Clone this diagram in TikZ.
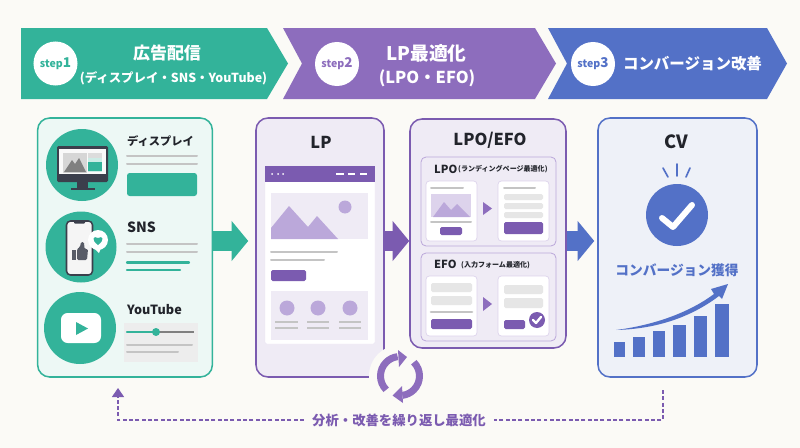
\documentclass[tikz,border=0pt]{standalone}
\usepackage{fontspec}
\setmainfont{Noto Sans CJK JP}
\usepackage{xcolor}
\usetikzlibrary{arrows.meta,calc}
\definecolor{bgc}{HTML}{FBFAF6}
\definecolor{tealc}{HTML}{33B39A}
\definecolor{teall}{HTML}{EDF8F5}
\definecolor{purc}{HTML}{8D6DBD}
\definecolor{purd}{HTML}{7B5BB0}
\definecolor{purm}{HTML}{BBA8DA}
\definecolor{purl}{HTML}{EFEBF5}
\definecolor{bluec}{HTML}{5371C7}
\definecolor{bluel}{HTML}{EEF1F8}
\definecolor{darkc}{HTML}{3B3F4C}
\definecolor{grayc}{HTML}{C4C4C4}
\definecolor{grayl}{HTML}{E6E6E6}
\definecolor{inkc}{HTML}{22242B}
\tikzset{
  headtext/.style={text=white,inner sep=0pt,align=center,font=\bfseries\fontsize{14}{19}\selectfont},
  headsmall/.style={text=white,inner sep=0pt,font=\bfseries\fontsize{10.6}{16}\selectfont},
  stepdot/.style={circle,fill=white,minimum size=1.32cm,inner sep=0pt,font=\bfseries\fontsize{9}{12}\selectfont},
  panel/.style={draw=#1,line width=1.3pt,rounded corners=.36cm,inner sep=0pt},
  sub/.style={draw=purm,fill=purl,line width=.7pt,rounded corners=.15cm},
  card/.style={draw=purm!50,fill=white,line width=.6pt,rounded corners=.1cm},
  title/.style={text=inkc,inner sep=0pt,font=\bfseries\fontsize{14}{16}\selectfont},
  subtitle/.style={text=inkc,inner sep=0pt,font=\bfseries\fontsize{10.8}{13}\selectfont},
  tiny/.style={text=inkc,inner sep=0pt,font=\bfseries\fontsize{6}{8}\selectfont},
  grayline/.style={draw=grayc,line width=.06cm,line cap=round},
  tealline/.style={draw=tealc,line width=.07cm,line cap=round},
  flow/.style={draw=#1,line width=.58cm,-{Triangle[length=.5cm,width=1.18cm]}},
  bar/.style={fill=grayl,rounded corners=.05cm},
  btn/.style={fill=purd,rounded corners=.05cm},
  backline/.style={draw=purd,line width=.9pt,dash pattern=on 3.4pt off 2pt},
}
\begin{document}
\begin{tikzpicture}[x=.03cm,y=-.03cm]
\useasboundingbox (0,0) rectangle (800,448);
\fill[bgc] (0,0) rectangle (800,448);
% step banners
\fill[tealc] (21,28) -- (267,28) -- (288,63.5) -- (267,99) -- (21,99) -- cycle;
\fill[purc] (283,28) -- (535,28) -- (556,63.5) -- (535,99) -- (283,99) -- (302,63.5) -- cycle;
\fill[bluec] (548,28) -- (767,28) -- (787,63.5) -- (767,99) -- (548,99) -- (567,63.5) -- cycle;
\node[stepdot,text=tealc] (s1) at (55.5,63.5) {step{\fontsize{11.5}{12}\selectfont 1}};
\node[stepdot,text=purc] (s2) at (337,64) {step{\fontsize{11.5}{12}\selectfont 2}};
\node[stepdot,text=bluec] (s3) at (593,64) {step{\fontsize{11.5}{12}\selectfont 3}};
\node[headtext,font=\bfseries\fontsize{14.5}{19}\selectfont] (h1) at (167,53) {広告配信};
\node[headsmall] (h1b) at (173.5,78) {(ディスプレイ・SNS・YouTube)};
\node[headtext,font=\bfseries\fontsize{16}{19}\selectfont] (h2) at (426.5,53) {LP最適化};
\node[headtext] (h2b) at (427,78) {(LPO・EFO)};
\node[headtext,font=\bfseries\fontsize{13.2}{15}\selectfont] (h3) at (692.5,64) {コンバージョン改善};
% panels
\node[panel=tealc,fill=teall,minimum width=5.24cm,minimum height=7.77cm] (media) at (125,247.5) {};
\node[panel=purd,fill=purl,minimum width=3.84cm,minimum height=7.77cm] (lp) at (320,247.5) {};
\node[panel=purd,fill=purl,minimum width=4.68cm,minimum height=6.87cm] (lpoefo) at (488,233.5) {};
\node[panel=bluec,fill=bluel,minimum width=4.77cm,minimum height=7.77cm] (cv) at (677.5,247.5) {};
% flow arrows
\draw[flow=tealc,shorten >=.21cm] ([yshift=.195cm]media.east) -- ([yshift=.195cm]lp.west);
\draw[flow=purd] ([yshift=.195cm]lp.east) -- ([yshift=.195cm]lp.east -| lpoefo.west);
\draw[flow=bluec,shorten >=.09cm] ([yshift=-.225cm]lpoefo.east) -- ([yshift=-.225cm]lpoefo.east -| cv.west);
% display
\fill[tealc] (82,165) circle[radius=36];
\fill[darkc,rounded corners=.04cm] (57,146) rectangle (108,182);
\fill[darkc] (77,182) rectangle (88,188);
\fill[darkc] (71,188) rectangle (95,190);
\fill[white!95!gray] (59,149) rectangle (106,174);
\fill[grayc!70] (63,153) rectangle (87,173);
\fill[gray] (64,172) -- (72,160) -- (75,164) -- (79,158) -- (86,172) -- cycle;
\fill[grayc!60] (88,153) rectangle (102,158);
\fill[tealc!25] (88,158) rectangle (102,172);
\fill[tealc] (88,162) rectangle (102,171);
\node[subtitle,font=\bfseries\fontsize{9.6}{13}\selectfont,anchor=west] (t1) at (127,141) {ディスプレイ};
\draw[grayline] (127,156) -- (197,156);
\draw[grayline] (127,164) -- (197,164);
\fill[tealc,rounded corners=.08cm] (127,173) rectangle (197,196);
% sns
\fill[tealc] (81,247) circle[radius=35.5];
\draw[darkc,fill=white!92!gray,line width=1.3pt,rounded corners=.12cm] (66.5,221) rectangle (92.5,275);
\fill[darkc,rounded corners=.03cm] (74,220) rectangle (85,223.5);
\fill[darkc!85] (72,250) rectangle (76,260);
\fill[darkc!85,rounded corners=.04cm] (77,249) -- (80,247) -- (81,242) -- (84,242) -- (84.5,249) -- (88,249) -- (87,260) -- (77,260) -- cycle;
\fill[white] (98,240) circle[radius=10];
\fill[white] (94,248) -- (99,253) -- (101,248) -- cycle;
\fill[tealc] (98,245) .. controls (91,240) and (93,235) .. (98,238) .. controls (103,235) and (105,240) .. (98,245);
\node[subtitle,font=\bfseries\fontsize{12}{13}\selectfont,anchor=west] (t2) at (127,227) {SNS};
\draw[grayline] (127,244) -- (197,244);
\draw[grayline] (127,252) -- (197,252);
\draw[tealline] (127,262.5) -- (189,262.5);
\draw[tealline] (127,270) -- (180,270);
% youtube
\fill[tealc] (80,328) circle[radius=36];
\fill[white,rounded corners=.2cm] (61,313) rectangle (101,343);
\fill[tealc] (76,322) -- (88,328.5) -- (76,335) -- cycle;
\node[subtitle,anchor=west] (t3) at (127,310) {YouTube};
\fill[grayl!70] (124,323) rectangle (198,362);
\draw[draw=gray,line width=.06cm] (156,332) -- (194,332);
\draw[tealline] (127,332) -- (156,332);
\fill[tealc] (156,332) circle[radius=4];
\draw[grayline] (127,345) -- (192,345);
\draw[grayline] (127,352) -- (178,352);
% lp
\node[title] (lpt) at (321,142) {LP};
\fill[white,draw=purm!30,line width=.4pt,rounded corners=.05cm] (265,166) rectangle (375,344);
\fill[purd] (265,166) rectangle (375,182);
\fill[white] (272,174) circle[radius=1] (278,174) circle[radius=1] (283,174) circle[radius=1];
\draw[white,line width=.04cm] (336,174) -- (344,174) (348,174) -- (355,174) (360,174) -- (367,174);
\fill[purl] (271,193) rectangle (368,239);
\fill[purm] (271,228) -- (289,206) -- (308,227) -- (317,216) -- (338,239) -- (271,239) -- cycle;
\fill[purm] (345,207) circle[radius=6.5];
\draw[grayline] (271,252) -- (337,252);
\draw[grayline] (271,260) -- (324,260);
\fill[btn] (271,270) rectangle (306,281);
\fill[purl] (271,291) rectangle (368,340);
\fill[purm] (287,308) circle[radius=7.5] (318,308) circle[radius=7.5] (350,308) circle[radius=7.5];
\draw[grayline,line cap=butt] (275,322) -- (298,322) (307,322) -- (329,322) (339,322) -- (361,322);
\draw[grayline,line cap=butt] (275,328) -- (298,328) (307,328) -- (329,328) (339,328) -- (361,328);
% lpo efo
\node[title] (lot) at (490,140) {LPO/EFO};
\draw[sub] (421,157) rectangle (556,246);
\node[subtitle,font=\bfseries\fontsize{9.5}{12}\selectfont,anchor=west] (lo) at (434,169) {LPO};
\node[tiny,anchor=west] (lob) at (458,169.5) {(ランディングページ最適化)};
\draw[card] (426,181) rectangle (477,241);
\draw[grayline] (431,188) -- (463,188);
\fill[purm!50] (431,194) rectangle (471,217);
\fill[purm] (433,217) -- (444,202) -- (451,210) -- (457,204) -- (470,217) -- cycle;
\draw[grayline] (431,222) -- (471,222);
\fill[btn] (440,227) rectangle (462,235);
\fill[purc] (483,202) -- (492,208.5) -- (483,215) -- cycle;
\draw[card] (498,181) rectangle (549,241);
\draw[grayline] (504,188) -- (535,188);
\fill[bar] (504,194) rectangle (543,200);
\fill[bar] (504,203) rectangle (543,209);
\fill[bar] (504,212) rectangle (543,218);
\fill[btn] (504,222) rectangle (543,234);
\draw[sub] (421,253) rectangle (556,341);
\node[subtitle,font=\bfseries\fontsize{9.5}{12}\selectfont,anchor=west] (ef) at (434,264) {EFO};
\node[tiny,anchor=west] (efb) at (461,265) {(入力フォーム最適化)};
\draw[card] (426,276) rectangle (477,336);
\fill[bar] (431,283) rectangle (472,292);
\fill[bar] (431,296) rectangle (472,305);
\draw[grayline,line width=.08cm] (431,312) -- (472,312);
\fill[btn] (431,319) rectangle (472,329);
\fill[purc] (483,297) -- (492,304) -- (483,311) -- cycle;
\draw[card] (498,276) rectangle (549,336);
\fill[bar] (504,285) rectangle (543,294);
\fill[bar] (504,298) rectangle (543,308);
\fill[btn] (504,320) rectangle (525,329);
\fill[purd] (537,320) circle[radius=8];
\draw[white,line width=.07cm,line cap=round,line join=round] (533,320) -- (536,323) -- (541,317);
% cv
\node[title,font=\bfseries\fontsize{15.5}{16}\selectfont] (cvt) at (676,142) {CV};
\draw[bluec,line width=.05cm,line cap=round] (677,164) -- (677,176);
\draw[bluec,line width=.05cm,line cap=round] (663,168) -- (668,177);
\draw[bluec,line width=.05cm,line cap=round] (690,168) -- (686,177);
\fill[bluec] (677,215) circle[radius=31];
\draw[white,line width=.18cm,line cap=round,line join=round] (662,218) -- (673,227) -- (692,205);
\node[inner sep=0pt,text=bluec,font=\bfseries\fontsize{11.7}{14}\selectfont] (cvb) at (677,270) {コンバージョン獲得};
\fill[bluec] (614,342) rectangle (625,357);
\fill[bluec] (633,337) rectangle (645,357);
\fill[bluec] (653,331) rectangle (665,357);
\fill[bluec] (673,325) rectangle (686,357);
\fill[bluec] (694,316) rectangle (707,357);
\fill[bluec] (715,304) rectangle (729,357);
\fill[bluec] (616,330) .. controls (655,325) and (690,312) .. (714,294) -- (711,289) -- (728,284) -- (722,299) -- (719,296) .. controls (690,318) and (655,329) .. (616,330) -- cycle;
% cycle mark
\fill[bgc] (400,376) circle[radius=31];
\draw[purc,line width=.21cm] (400,376) ++(-225:19.5) arc[start angle=-225,end angle=-97,radius=19.5];
\draw[purc,line width=.21cm] (400,376) ++(-45:19.5) arc[start angle=-45,end angle=83,radius=19.5];
\fill[purc] (398,350) -- (407,357) -- (399,367) -- cycle;
\fill[purc] (402,386) -- (392.5,395.5) -- (403,403) -- cycle;
% feedback
\node[inner sep=0pt,text=purd,font=\bfseries\fontsize{11.4}{14}\selectfont] (loop) at (399,420) {分析・改善を繰り返し最適化};
\coordinate (fromcv) at (663,390);
\coordinate (tomedia) at (118,388);
\draw[backline] (fromcv) |- ([xshift=.24cm]loop.east);
\draw[backline,-{Triangle[length=.27cm,width=.36cm]}] ([xshift=-.24cm]loop.west) -| (tomedia);
\end{tikzpicture}
\end{document}
